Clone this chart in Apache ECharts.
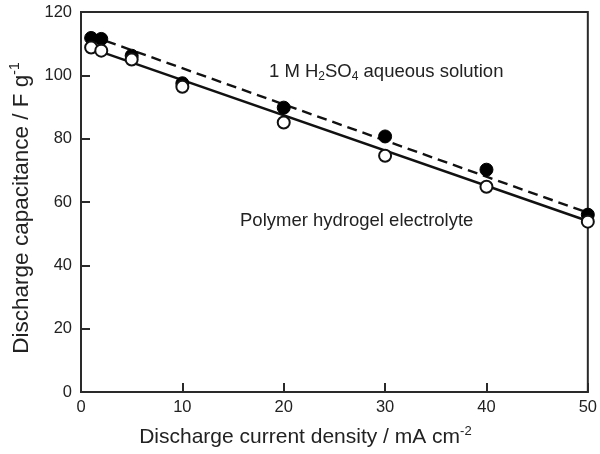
<!DOCTYPE html>
<html>
<head>
<meta charset="utf-8">
<script src="https://cdn.jsdelivr.net/npm/echarts@6/dist/echarts.min.js"></script>
<style>html,body{margin:0;padding:0;background:#fff}#c{width:600px;height:454px}</style>
</head>
<body>
<div id="c"></div>
<script>
// Data
var currentDensity = [1, 2, 5, 10, 20, 30, 40, 50];
var capAqueous = [111.8, 111.5, 106.2, 97.5, 89.8, 80.7, 70.2, 56.0];
var capHydrogel = [108.8, 107.8, 105.0, 96.4, 85.1, 74.6, 64.8, 53.8];
var fitX = [1, 50];
var fitAqueous = [112.5, 56.6];
var fitHydrogel = [108.5, 54.0];
var xTicks = [0, 10, 20, 30, 40, 50];
var yTicks = [0, 20, 40, 60, 80, 100, 120];

function pairs(xs, ys) { return xs.map(function (x, i) { return [x, ys[i]]; }); }

var chart = echarts.init(document.getElementById('c'));
var ff = '"Liberation Sans", Arial, sans-serif';
var ink = '#222';
chart.setOption({
  backgroundColor: '#fff',
  animation: false,
  grid: { left: 81, right: 10, top: 12, bottom: 62, show: true, borderColor: '#2a2a2a', borderWidth: 2 },
  xAxis: {
    type: 'value', min: xTicks[0], max: xTicks[xTicks.length - 1], interval: 10,
    axisLine: { show: true, lineStyle: { color: '#2a2a2a', width: 2 } },
    axisTick: { show: true, inside: true, length: 9, lineStyle: { color: '#2a2a2a', width: 2 } },
    axisLabel: { color: ink, fontSize: 16.5, fontFamily: ff, margin: 7 },
    splitLine: { show: false },
    name: '{a|Discharge current density / mA cm}{s|-2}',
    nameLocation: 'middle', nameGap: 33,
    nameTextStyle: { padding: [0, 58, 0, 0], rich: {
      a: { fontSize: 21, fontFamily: ff, color: ink },
      s: { fontSize: 13, fontFamily: ff, color: ink, padding: [0, 0, 12, 0] }
    } }
  },
  yAxis: {
    type: 'value', min: yTicks[0], max: yTicks[yTicks.length - 1], interval: 20,
    axisLine: { show: true, lineStyle: { color: '#2a2a2a', width: 2 } },
    axisTick: { show: true, inside: true, length: 9, lineStyle: { color: '#2a2a2a', width: 2 } },
    axisLabel: { color: ink, fontSize: 16.5, fontFamily: ff, margin: 9 },
    splitLine: { show: false },
    name: '{a|Discharge capacitance / F g}{s|-1}',
    nameLocation: 'middle', nameGap: 46, nameRotate: 90,
    nameTextStyle: { padding: [0, 12, 0, 0], rich: {
      a: { fontSize: 22.5, fontFamily: ff, color: ink },
      s: { fontSize: 14, fontFamily: ff, color: ink, padding: [0, 0, 13, 0] }
    } }
  },
  series: [
    { type: 'line', data: pairs(fitX, fitAqueous), symbol: 'none', z: 2,
      lineStyle: { color: '#111', width: 2.4, type: [10, 6] } },
    { type: 'line', data: pairs(fitX, fitHydrogel), symbol: 'none', z: 2,
      lineStyle: { color: '#111', width: 2.4 } },
    { type: 'scatter', data: pairs(currentDensity, capAqueous), symbol: 'circle', symbolSize: 13, z: 3,
      itemStyle: { color: '#000', borderColor: '#000', borderWidth: 1, opacity: 1 } },
    { type: 'scatter', data: pairs(currentDensity, capHydrogel), symbol: 'circle', symbolSize: 12, z: 4,
      itemStyle: { color: '#fff', borderColor: '#111', borderWidth: 2, opacity: 1 } }
  ],
  graphic: [
    { type: 'text', x: 269, y: 72, z: 10,
      style: { text: '{a|1 M H}{b|2}{a|SO}{b|4}{a| aqueous solution}', verticalAlign: 'middle', rich: {
        a: { fontSize: 18.5, fontFamily: ff, fill: ink },
        b: { fontSize: 12, fontFamily: ff, fill: ink, padding: [10, 0, 0, 0] } } } },
    { type: 'text', x: 240, y: 221, z: 10,
      style: { text: 'Polymer hydrogel electrolyte', verticalAlign: 'middle', font: '18.5px ' + ff, fill: ink } }
  ]
});
</script>
</body>
</html>
